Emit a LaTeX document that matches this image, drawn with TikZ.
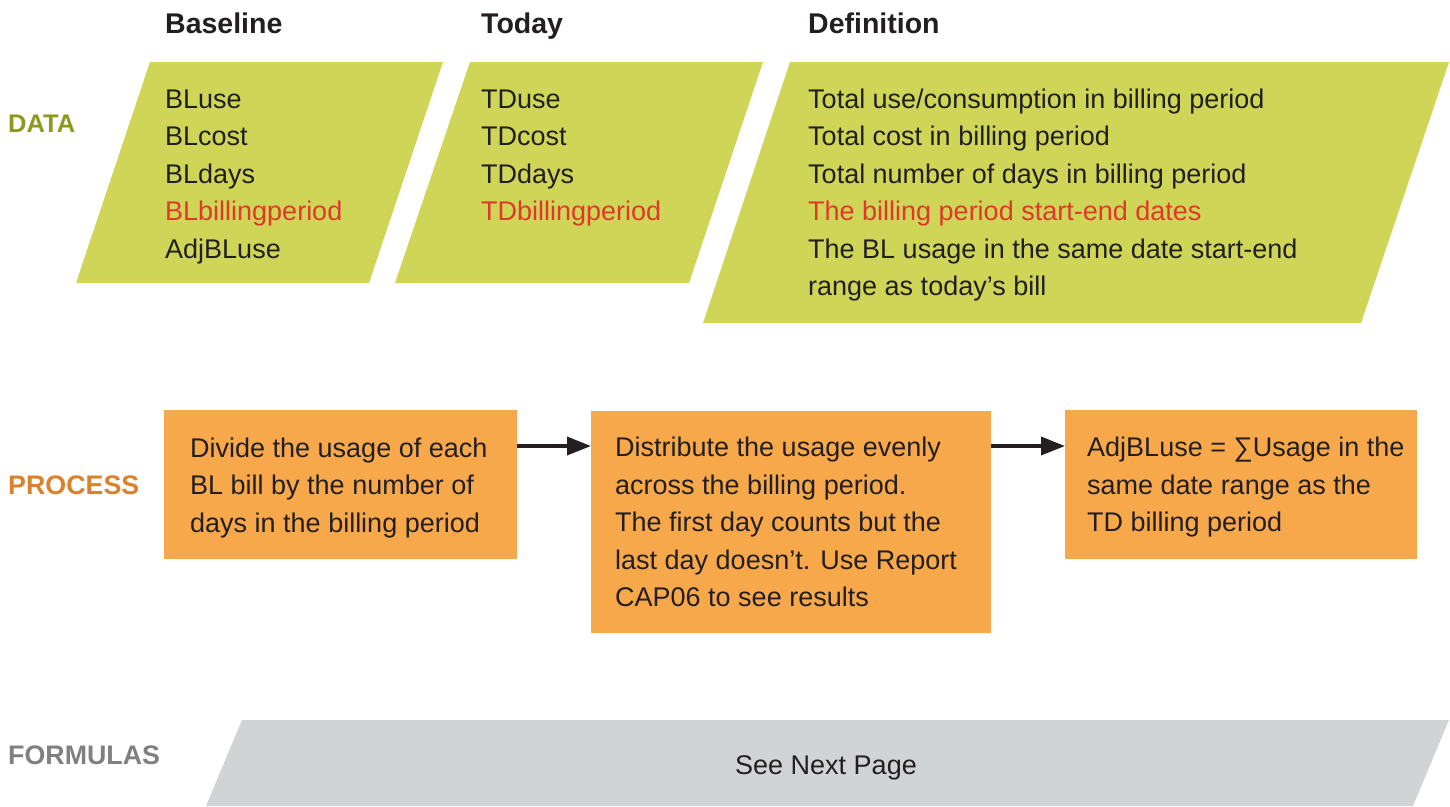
\documentclass[tikz,border=0pt]{standalone}
\usepackage{fontspec}
\setmainfont{Liberation Sans}
\usetikzlibrary{arrows.meta}
\definecolor{dgreen}{HTML}{CFD557}
\definecolor{dorange}{HTML}{F7A84B}
\definecolor{dgray}{HTML}{D1D3D4}
\definecolor{dred}{HTML}{E0382B}
\definecolor{dtext}{HTML}{231F20}
\definecolor{lgreen}{HTML}{8B9A1D}
\definecolor{lorange}{HTML}{D9822B}
\definecolor{lgray}{HTML}{808080}
\newcommand\mlines[1]{\vtop{\halign{##\hfil\cr#1\crcr}}}
\begin{document}
\begin{tikzpicture}[x=1pt,y=-1pt,
 body/.style={anchor=base west, inner sep=0pt, text=dtext, font=\fontsize{27}{37.5}\selectfont},
 head/.style={anchor=base west, inner sep=0pt, text=dtext, font=\fontsize{28.5}{34}\selectfont\bfseries},
 side/.style={anchor=base west, inner sep=0pt, font=\fontsize{26.8}{30}\selectfont\bfseries},
 procbox/.style={fill=dorange, anchor=north west, inner sep=0pt},
 flow/.style={line width=3.5pt, draw=dtext, -{Triangle[length=24pt,width=18pt]}}]
\useasboundingbox (0,0) rectangle (1450,806);
% data parallelograms
\fill[dgreen] (150,62) -- (443,62) -- (369,283) -- (76,283) -- cycle;
\fill[dgreen] (470,62) -- (763,62) -- (689,283) -- (395,283) -- cycle;
\fill[dgreen] (790,62) -- (1449,62) -- (1361,323) -- (703,323) -- cycle;
% formulas band
\fill[dgray] (242,720) -- (1449,720) -- (1413,806) -- (206,806) -- cycle;
% headings
\node[head] (hbl) at (165,33.3) {Baseline};
\node[head] (htd) at (481,33.3) {Today};
\node[head] (hdef) at (808,33.3) {Definition};
% side labels
\node[side, text=lgreen, font=\fontsize{25.5}{28}\selectfont\bfseries] (ldata) at (8,132.5) {DATA};
\node[side, text=lorange] (lproc) at (8,494.5) {PROCESS};
\node[side, text=lgray] (lform) at (8,764.5) {FORMULAS};
% data lists
\node[body] (bl) at (165,108.3) {\mlines{BLuse\cr BLcost\cr BLdays\cr \textcolor{dred}{BLbillingperiod}\cr AdjBLuse}};
\node[body] (td) at (481,108.3) {\mlines{TDuse\cr TDcost\cr TDdays\cr \textcolor{dred}{TDbillingperiod}}};
\node[body] (def) at (808,108.3) {\mlines{Total use/consumption in billing period\cr Total cost in billing period\cr Total number of days in billing period\cr \textcolor{dred}{The billing period start-end dates}\cr The BL usage in the same date start-end\cr range as today’s bill}};
% process boxes
\node[procbox, minimum width=352.7pt, minimum height=148.7pt] (p1) at (164,410) {};
\node[procbox, minimum width=400pt, minimum height=221.7pt] (p2) at (591,411) {};
\node[procbox, minimum width=351.7pt, minimum height=148.7pt] (p3) at (1065,410) {};
\node[body] (t1) at (190,457.3) {\mlines{Divide the usage of each\cr BL bill by the number of\cr days in the billing period}};
\node[body] (t2) at (615,456.7) {\mlines{Distribute the usage evenly\cr across the billing period.\cr The first day counts but the\cr last day doesn’t. Use Report\cr CAP06 to see results}};
\node[body] (t3) at (1087,456.7) {\mlines{AdjBLuse = ∑Usage in the\cr same date range as the\cr TD billing period}};
% arrows
\coordinate (ay) at (0,446);
\draw[flow] (p1.east |- ay) -- (p2.west |- ay);
\draw[flow] (p2.east |- ay) -- (p3.west |- ay);
% formulas text
\node[body, anchor=base] (see) at (826,774.5) {See Next Page};
\end{tikzpicture}
\end{document}
